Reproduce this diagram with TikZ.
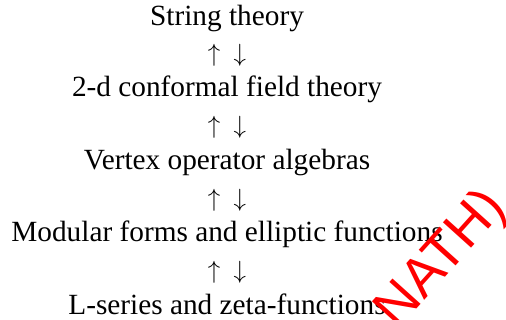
\documentclass[tikz,border=0pt]{standalone}
\usepackage{fontspec}
\setmainfont{Liberation Serif}
\newfontfamily\stampfont{Liberation Sans}
\begin{document}
\begin{tikzpicture}[x=1pt,y=1pt,
  lbl/.style={anchor=base,inner sep=0pt,font=\fontsize{29.3}{34}\selectfont},
  arr/.style={inner sep=0pt,font=\fontsize{29.5}{34}\selectfont},
  stamp/.style={text=red,inner sep=0pt,font=\stampfont\fontsize{55}{60}\selectfont,rotate=48}]
\useasboundingbox (0,0) rectangle (506,320);
\node[lbl] (st) at (227,294) {String theory};
\node[arr] (a1) at (227,265) {$\uparrow$\hspace{0.45em}$\downarrow$};
\node[lbl] (cft) at (227,223) {2-d conformal field theory};
\node[arr] (a2) at (227,193) {$\uparrow$\hspace{0.45em}$\downarrow$};
\node[lbl] (voa) at (227,150) {Vertex operator algebras};
\node[arr] (a3) at (227,120) {$\uparrow$\hspace{0.45em}$\downarrow$};
\node[lbl] (mf) at (227,78) {Modular forms and elliptic functions};
\node[arr] (a4) at (227,48) {$\uparrow$\hspace{0.45em}$\downarrow$};
\node[lbl] (ls) at (227,5) {L-series and zeta-functions};
\node[stamp] (wm) at (442,60) {NATH)};
\end{tikzpicture}
\end{document}
